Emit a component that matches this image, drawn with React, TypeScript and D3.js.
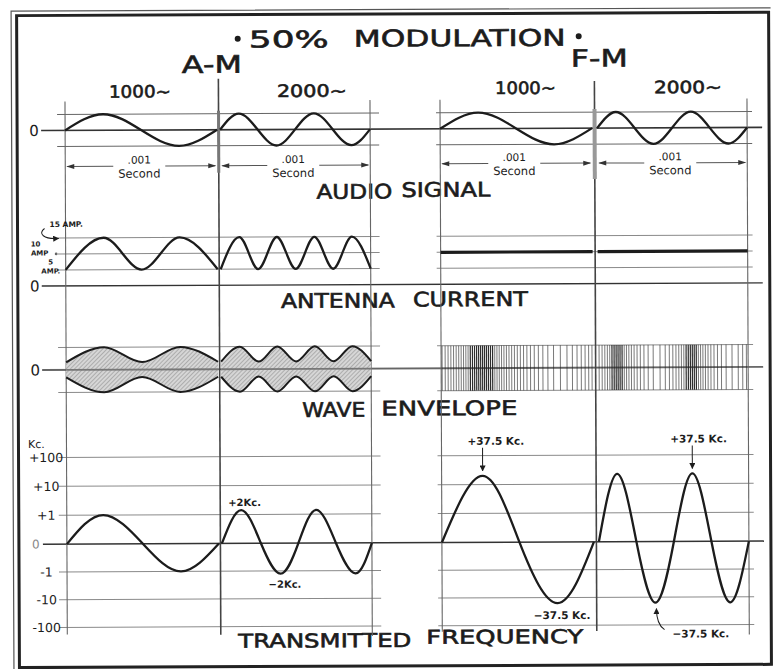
import * as d3 from "d3"

type Pt = [number, number]

// ---- values ----
const modulationTypes = ["A-M", "F-M"]
const toneLabels = ["1000~", "2000~"]
const titleWords = ["50%", "MODULATION"]
const sectionWords = [
  ["AUDIO", "SIGNAL"],
  ["ANTENNA", "CURRENT"],
  ["WAVE", "ENVELOPE"],
  ["TRANSMITTED", "FREQUENCY"],
]
const freqTickLabels = ["+100", "+10", "+1", "0", "-1", "-10", "-100"]
const freqTickSteps = [3, 2, 1, 0, -1, -2, -3]
const ampLevels = [5, 10, 15]

// audio signal, t in ms, value relative to peak
const audio1000: Pt[] = [[0, 0], [0.25, 1], [0.5, 0], [0.75, -1], [1, 0]]
const audio2000: Pt[] = [
  [0, 0], [0.125, 1], [0.25, 0], [0.375, -1], [0.5, 0], [0.625, 1], [0.75, 0], [0.875, -1], [1, 0],
]

// antenna current, amperes
const amCurrent1000: Pt[] = [[0, 5], [0.25, 15], [0.5, 5], [0.75, 15], [1, 5]]
const amCurrent2000: Pt[] = [
  [0, 5], [0.125, 15], [0.25, 5], [0.375, 15], [0.5, 5], [0.625, 15], [0.75, 5], [0.875, 15], [1, 5],
]
const fmCurrent: Pt[] = [[0, 10], [1, 10]]

// transmitted frequency deviation, in steps of the Kc. scale
const amFreq1000: Pt[] = [[0, 0], [0.24, 1], [0.5, 0], [0.75, -1], [1, 0]]
const amFreq2000: Pt[] = [
  [0, 0], [0.13, 1.15], [0.26, 0], [0.39, -1.1], [0.51, 0], [0.63, 1.15], [0.76, 0], [0.89, -1.1], [1, 0],
]
const fmFreq1000: Pt[] = [[0, 0], [0.27, 2.3], [0.51, 0], [0.76, -2.2], [1, 0]]
const fmFreq2000: Pt[] = [
  [0, 0], [0.125, 2.35], [0.25, 0], [0.375, -2.2], [0.5, 0], [0.625, 2.35], [0.75, 0], [0.875, -2.2], [1, 0],
]

const width = 774
const height = 669
const ink = "#1c1c1c"
const grid = "#8a8a8a"
const font = "'DejaVu Sans', Verdana, sans-serif"

const amX = [
  d3.scaleLinear().domain([0, 1]).range([66, 218]),
  d3.scaleLinear().domain([0, 1]).range([221, 371]),
]
const fmX = [
  d3.scaleLinear().domain([0, 1]).range([441, 593]),
  d3.scaleLinear().domain([0, 1]).range([598, 748]),
]
const audioY = d3.scaleLinear().domain([-1, 1]).range([145, 113])
const ampY = d3.scaleLinear().domain([0, 15]).range([284.5, 236.5])
const envZero = 368.5
const envR = d3.scaleLinear().domain([0, 15]).range([0, 22.5])
const freqY = d3.scaleLinear().domain([-3, 0, 3]).range([626, 542.7, 456])

const amSpan: [number, number] = [58, 380]
const fmSpan: [number, number] = [437, 753]

function curvePath(pts: Pt[], x: d3.ScaleLinear<number, number>, y: (v: number) => number, curve: d3.CurveFactory) {
  return d3.line<Pt>().x((d) => x(d[0])).y((d) => y(d[1])).curve(curve)(pts) ?? ""
}

// carrier cycles of the F-M wave: spacing follows the transmitted frequency curve
function carrierTicks(pts: Pt[], x: d3.ScaleLinear<number, number>) {
  const dev = d3.scaleLinear().domain(pts.map((p) => p[0])).range(pts.map((p) => p[1]))
  const maxDev = d3.max(pts, (p) => Math.abs(p[1])) ?? 1
  const [x0, x1] = x.range()
  const out: { x: number; step: number }[] = []
  let px = x0 + 1
  while (px < x1) {
    const step = 3.1 / (1 + 0.62 * (dev(x.invert(px)) / maxDev))
    out.push({ x: px, step })
    px += step
  }
  return out
}

function Word({ x, y, w, size, children }: { x: number; y: number; w: number; size: number; children: string }) {
  return (
    <text x={x} y={y} textLength={w} lengthAdjust="spacingAndGlyphs" fontSize={size}
      fill={ink} stroke={ink} strokeWidth={0.6} fontFamily={font}>
      {children}
    </text>
  )
}

function Small({ x, y, size, children, anchor = "start" }: { x: number; y: number; size: number; children: string; anchor?: string }) {
  return (
    <text x={x} y={y} fontSize={size} fontWeight={700} textAnchor={anchor} fill={ink} fontFamily={font}>
      {children}
    </text>
  )
}

function HLine({ y, span, color = grid, w = 1 }: { y: number; span: [number, number]; color?: string; w?: number }) {
  return <line x1={span[0]} x2={span[1]} y1={y} y2={y} stroke={color} strokeWidth={w} />
}

function Dimension({ x, y }: { x: d3.ScaleLinear<number, number>; y: number }) {
  const [x0, x1] = x.range()
  const c = (x0 + x1) / 2 - 2
  return (
    <g>
      <line x1={x0 + 2} x2={c - 26} y1={y} y2={y} stroke="#555" strokeWidth={1} />
      <line x1={c + 26} x2={x1 - 2} y1={y} y2={y} stroke="#555" strokeWidth={1} />
      <path d={`M${x0 + 1},${y}L${x0 + 9},${y - 2.5}L${x0 + 9},${y + 2.5}Z`} fill="#333" />
      <path d={`M${x1 - 1},${y}L${x1 - 9},${y - 2.5}L${x1 - 9},${y + 2.5}Z`} fill="#333" />
      <text x={c} y={y - 2.5} textAnchor="middle" fontSize={10.5} fill={ink} fontFamily={font}>.001</text>
      <text x={c} y={y + 11.5} textAnchor="middle" fontSize={11.5} fill={ink} fontFamily={font}>Second</text>
    </g>
  )
}

export default function App() {
  const audioSets = [audio1000, audio2000]
  const amCurrents = [amCurrent1000, amCurrent2000]
  const amFreqs = [amFreq1000, amFreq2000]
  const fmFreqs = [fmFreq1000, fmFreq2000]

  const env = (pts: Pt[], x: d3.ScaleLinear<number, number>) => ({
    area: d3.area<Pt>().x((d) => x(d[0])).y0((d) => envZero + envR(d[1])).y1((d) => envZero - envR(d[1])).curve(d3.curveMonotoneX)(pts) ?? "",
    top: d3.line<Pt>().x((d) => x(d[0])).y((d) => envZero - envR(d[1])).curve(d3.curveMonotoneX)(pts) ?? "",
    bottom: d3.line<Pt>().x((d) => x(d[0])).y((d) => envZero + envR(d[1])).curve(d3.curveMonotoneX)(pts) ?? "",
  })

  // annotation anchors taken from the curves
  const amPk = amFreq2000[1], amTr = amFreq2000[3]
  const fm1Pk = fmFreq1000[1], fm1Tr = fmFreq1000[3]
  const fm2Pk = fmFreq2000[5], fm2Tr = fmFreq2000[3]

  const verticals = [
    { x: 66, y0: 100, y1: 633, w: 1.1, c: "#666" },
    { x: 219.5, y0: 78, y1: 634, w: 1.6, c: "#444" },
    { x: 371, y0: 100, y1: 636, w: 1.1, c: "#666" },
    { x: 441, y0: 100, y1: 632, w: 1.1, c: "#666" },
    { x: 595.5, y0: 82, y1: 632, w: 1.6, c: "#444" },
    { x: 748, y0: 100, y1: 636, w: 1.1, c: "#666" },
  ]

  return (
    <svg width={width} height={height} viewBox={`0 0 ${width} ${height}`}
      style={{ position: "absolute", left: 0, top: 0, background: "#fff" }}>
      <defs>
        <pattern id="hatch" width={3} height={3} patternUnits="userSpaceOnUse" patternTransform="rotate(45)">
          <rect width={3} height={3} fill="#d6d6d6" />
          <line x1={0} y1={0} x2={0} y2={3} stroke="#8c8c8c" strokeWidth={1.1} />
        </pattern>
        <marker id="ah" viewBox="0 0 10 10" refX={9} refY={5} markerWidth={6} markerHeight={6} orient="auto">
          <path d="M0,0L10,5L0,10Z" fill={ink} />
        </marker>
      </defs>
      <rect width={width} height={height} fill="#fff" />
      <g transform="rotate(-0.25 390 335)">
        {/* frame */}
        <path d="M12.5,669V9.5H772" fill="none" stroke="#555" strokeWidth={1.2} />
        <rect x={18} y={14} width={752} height={652} fill="none" stroke="#222" strokeWidth={3} />

        {/* title */}
        <circle cx={239} cy={38} r={3} fill={ink} />
        <Word x={250} y={47} w={80} size={23}>{titleWords[0]}</Word>
        <Word x={355} y={46.5} w={212} size={23}>{titleWords[1]}</Word>
        <circle cx={580} cy={37} r={3} fill={ink} />
        <Word x={183} y={72} w={60} size={24}>{modulationTypes[0]}</Word>
        <Word x={572} y={67.5} w={57} size={24}>{modulationTypes[1]}</Word>
        <Word x={110} y={96.5} w={62} size={17}>{toneLabels[0]}</Word>
        <Word x={278} y={96.5} w={70} size={17}>{toneLabels[1]}</Word>
        <Word x={496} y={94.5} w={61} size={17}>{toneLabels[0]}</Word>
        <Word x={655} y={94.5} w={68} size={17}>{toneLabels[1]}</Word>

        {/* section titles */}
        <Word x={317} y={198.5} w={76} size={20}>{sectionWords[0][0]}</Word>
        <Word x={402} y={197} w={89} size={20}>{sectionWords[0][1]}</Word>
        <Word x={281} y={307.5} w={114} size={20}>{sectionWords[1][0]}</Word>
        <Word x={413} y={306.5} w={115} size={20}>{sectionWords[1][1]}</Word>
        <Word x={302} y={416.5} w={63} size={20}>{sectionWords[2][0]}</Word>
        <Word x={381} y={415.5} w={136} size={20}>{sectionWords[2][1]}</Word>
        <Word x={237} y={647} w={173} size={19}>{sectionWords[3][0]}</Word>
        <Word x={425} y={644} w={157} size={19}>{sectionWords[3][1]}</Word>

        {/* horizontal rules */}
        {[amSpan, fmSpan].map((span, i) => (
          <g key={`grid-${i}`}>
            <HLine y={audioY(1)} span={span} color="#666" />
            <HLine y={audioY(-1)} span={span} color="#666" />
            {ampLevels.map((a) => <HLine key={a} y={ampY(a)} span={span} />)}
            <HLine y={envZero - envR(15)} span={span} />
            <HLine y={envZero + envR(15)} span={span} />
            {freqTickSteps.filter((s) => s !== 0).map((s) => <HLine key={s} y={freqY(s)} span={span} />)}
          </g>
        ))}
        <HLine y={audioY(0)} span={[42, 763]} color="#333" w={1.6} />
        <HLine y={ampY(0)} span={[42, 763]} color="#333" w={1.4} />
        <HLine y={envZero} span={[42, 763]} color="#666" w={1.8} />
        <HLine y={freqY(0)} span={[42, 763]} color="#333" w={1.4} />

        {/* verticals */}
        {verticals.map((v) => (
          <line key={v.x} x1={v.x} x2={v.x} y1={v.y0} y2={v.y1} stroke={v.c} strokeWidth={v.w} />
        ))}
        <line x1={219.5} x2={219.5} y1={110} y2={172} stroke="#777" strokeWidth={3} />
        <line x1={595.5} x2={595.5} y1={110} y2={180} stroke="#999" strokeWidth={4} />

        {/* zero labels */}
        {[audioY(0), ampY(0), envZero].map((y) => (
          <text key={y} x={35} y={y} dy="0.36em" textAnchor="middle" fontSize={15} fill={ink} fontFamily={font}>0</text>
        ))}

        {/* amp labels */}
        <Small x={50} y={225.5} size={7.5}>{`${ampLevels[2]} AMP.`}</Small>
        <path d="M45,227 C38,232 44,238 59,237" fill="none" stroke={ink} strokeWidth={1} markerEnd="url(#ah)" />
        <Small x={36} y={245} size={7} anchor="middle">{String(ampLevels[1])}</Small>
        <Small x={40} y={254} size={7} anchor="middle">AMP</Small>
        <circle cx={56.5} cy={ampY(10)} r={1.4} fill="#666" />
        <Small x={51} y={263} size={7} anchor="middle">{String(ampLevels[0])}</Small>
        <Small x={51} y={272} size={7} anchor="middle">AMP.</Small>

        {/* Kc. scale */}
        <text x={36} y={446.5} textAnchor="middle" fontSize={11} fill={ink} fontFamily={font}>Kc.</text>
        {freqTickLabels.map((l, i) =>
          l === "0" ? (
            <text key={l} x={35} y={freqY(0)} dy="0.36em" textAnchor="middle" fontSize={12} fill="#888" fontFamily={font}>{l}</text>
          ) : (
            <text key={l} x={45.5} y={freqY(freqTickSteps[i])} dy="0.36em" textAnchor="middle" fontSize={12.5} fill={ink} fontFamily={font}>{l}</text>
          )
        )}

        {/* .001 second dimensions */}
        {amX.map((x, i) => <Dimension key={`amd${i}`} x={x} y={165} />)}
        {fmX.map((x, i) => <Dimension key={`fmd${i}`} x={x} y={164} />)}

        {/* audio signal */}
        {[amX, fmX].map((xs, m) =>
          xs.map((x, i) => (
            <path key={`au${m}${i}`} d={curvePath(audioSets[i], x, audioY, d3.curveNatural)} fill="none" stroke={ink} strokeWidth={2.3} />
          ))
        )}

        {/* antenna current */}
        {amX.map((x, i) => (
          <path key={`ac${i}`} d={curvePath(amCurrents[i], x, ampY, d3.curveMonotoneX)} fill="none" stroke={ink} strokeWidth={2.3} />
        ))}
        {fmX.map((x, i) => (
          <path key={`fc${i}`} d={curvePath(fmCurrent, x, ampY, d3.curveLinear)} fill="none" stroke={ink} strokeWidth={3.2} />
        ))}

        {/* wave envelope, A-M */}
        {amX.map((x, i) => {
          const e = env(amCurrents[i], x)
          return (
            <g key={`env${i}`}>
              <path d={e.area} fill="url(#hatch)" />
              <line x1={x.range()[0]} x2={x.range()[1]} y1={envZero} y2={envZero} stroke="#777" strokeWidth={1.8} />
              <path d={e.top} fill="none" stroke={ink} strokeWidth={2} />
              <path d={e.bottom} fill="none" stroke={ink} strokeWidth={2} />
            </g>
          )
        })}

        {/* wave envelope, F-M carrier cycles */}
        {fmX.map((x, i) => (
          <g key={`car${i}`}>
            {carrierTicks(fmFreqs[i], x).map((c, j) => (
              <line key={j} x1={c.x} x2={c.x} y1={envZero - envR(15)} y2={envZero + envR(15)}
                stroke="#222" strokeWidth={c.step < 2.2 ? 1.2 : 0.8} opacity={c.step < 2.2 ? 0.95 : 0.75} />
            ))}
          </g>
        ))}

        {/* transmitted frequency */}
        {amX.map((x, i) => (
          <path key={`af${i}`} d={curvePath(amFreqs[i], x, freqY, d3.curveNatural)} fill="none" stroke={ink} strokeWidth={2.3} />
        ))}
        {fmX.map((x, i) => (
          <path key={`ff${i}`} d={curvePath(fmFreqs[i], x, freqY, d3.curveNatural)} fill="none" stroke={ink} strokeWidth={2.3} />
        ))}

        {/* annotations */}
        <Small x={amX[1](amPk[0]) - 13} y={freqY(amPk[1]) - 4} size={10}>+2Kc.</Small>
        <Small x={amX[1](amTr[0]) - 12} y={freqY(amTr[1]) + 14} size={10}>−2Kc.</Small>

        <Small x={fmX[0](fm1Pk[0]) - 15} y={freqY(fm1Pk[1]) - 31} size={10.5}>+37.5 Kc.</Small>
        <line x1={fmX[0](fm1Pk[0])} x2={fmX[0](fm1Pk[0])} y1={freqY(fm1Pk[1]) - 28} y2={freqY(fm1Pk[1]) - 5} stroke={ink} strokeWidth={1} markerEnd="url(#ah)" />
        <Small x={fmX[0](fm1Tr[0]) - 24} y={freqY(fm1Tr[1]) + 16} size={10.5}>−37.5 Kc.</Small>

        <Small x={fmX[1](fm2Pk[0]) - 22} y={freqY(fm2Pk[1]) - 31} size={10.5}>+37.5 Kc.</Small>
        <line x1={fmX[1](fm2Pk[0])} x2={fmX[1](fm2Pk[0])} y1={freqY(fm2Pk[1]) - 28} y2={freqY(fm2Pk[1]) - 5} stroke={ink} strokeWidth={1} markerEnd="url(#ah)" />
        <Small x={fmX[1](fm2Tr[0]) + 17} y={freqY(fm2Tr[1]) + 35} size={10.5}>−37.5 Kc.</Small>
        <path d={`M${fmX[1](fm2Tr[0]) + 9},${freqY(fm2Tr[1]) + 27} Q${fmX[1](fm2Tr[0]) + 1},${freqY(fm2Tr[1]) + 22} ${fmX[1](fm2Tr[0]) + 1},${freqY(fm2Tr[1]) + 6}`}
          fill="none" stroke={ink} strokeWidth={1} markerEnd="url(#ah)" />
      </g>
    </svg>
  )
}
